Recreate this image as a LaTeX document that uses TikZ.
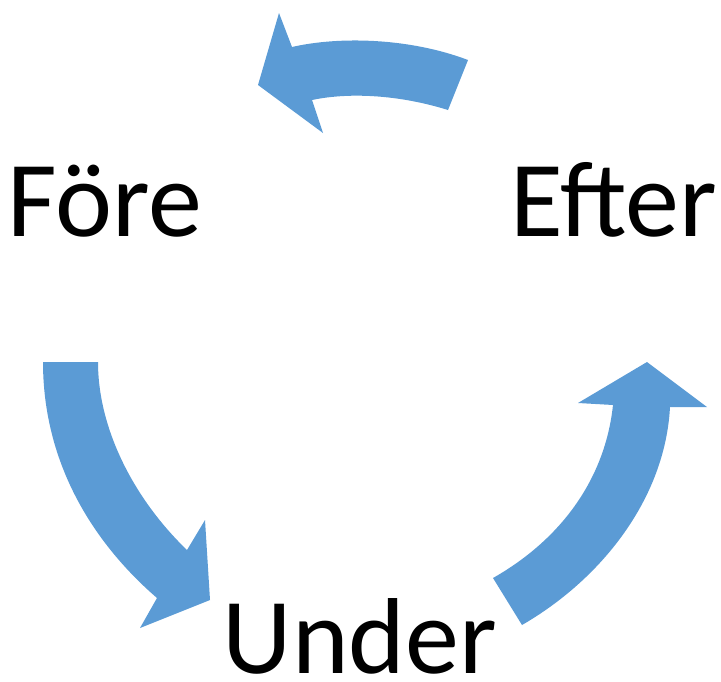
\documentclass[tikz,border=0pt]{standalone}
\usepackage{fontspec}
\setmainfont{Carlito}
\definecolor{arrowblue}{HTML}{5B9BD5}
\begin{document}
\begin{tikzpicture}[x=1pt,y=-1pt,
  lbl/.style={inner sep=0pt, anchor=base, font=\fontsize{108}{120}\selectfont},
  blockarrow/.style={fill=arrowblue, draw=none}]
\useasboundingbox (0,0) rectangle (721,681);
\node[lbl] (fore) at (105,236) {Före};
\node[lbl] (efter) at (614,236) {Efter};
\node[lbl] (under) at (360,673) {Under};
% top arrow (Efter -> Före)
\fill[blockarrow] (468,60) .. controls (410,38) and (340,36) .. (292,47)
  -- (279,13) -- (258,85) -- (323,133) -- (312,100)
  .. controls (350,92) and (400,95) .. (448,110) -- cycle;
% left arrow (Före -> Under)
\fill[blockarrow] (43,362) -- (98,362)
  .. controls (98,430) and (135,500) .. (187,550)
  -- (205,520) -- (210,600) -- (140,628) -- (157,598)
  .. controls (90,540) and (43,460) .. (43,362) -- cycle;
% right arrow (Under -> Efter)
\fill[blockarrow] (493,578) .. controls (560,540) and (605,480) .. (613,405)
  -- (578,403) -- (647,362) -- (707,407) -- (670,407)
  .. controls (665,500) and (600,580) .. (522,625) -- cycle;
\end{tikzpicture}
\end{document}
